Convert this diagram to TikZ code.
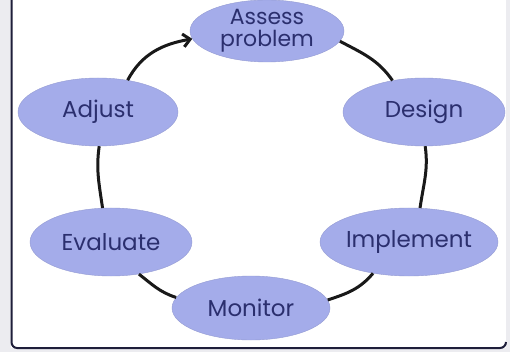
\documentclass[tikz,border=0pt]{standalone}
\usepackage{fontspec}
\setmainfont{Poppins}
\usetikzlibrary{shapes.geometric,arrows.meta}
\definecolor{ellfill}{HTML}{A4ACEA}
\definecolor{elltext}{HTML}{2B2F6E}
\definecolor{framecol}{HTML}{1E1E3A}
\definecolor{outbg}{HTML}{ECECF0}
\tikzset{
  stage/.style={ellipse, fill=ellfill, draw=ellfill!90!black, line width=0.4pt, inner sep=0pt,
    text=elltext, font=\fontsize{23}{20}\selectfont, align=center},
  link/.style={line width=3pt, draw=black!90},
}
\begin{document}
\begin{tikzpicture}[x=1pt,y=1pt]
\useasboundingbox (0,0) rectangle (510,-352);
\fill[outbg] (0,0) rectangle (510,-352);
\fill[white] (11,0) rectangle (506,-348);
\draw[framecol, line width=2pt] (11.5,0) -- (11.5,-342) to[out=-90,in=180] (17,-348) -- (500,-348) to[out=0,in=-90] (506,-342);
\node[stage, minimum width=154pt, minimum height=62pt, font=\fontsize{22}{22}\selectfont] (assess) at (267,-31) {Assess\\problem};
\node[stage, minimum width=162pt, minimum height=68pt] (design) at (424,-112) {Design};
\node[stage, minimum width=160pt, minimum height=68pt] (adjust) at (98,-112) {Adjust};
\node[stage, minimum width=162pt, minimum height=68pt] (evaluate) at (111,-242) {Evaluate};
\node[stage, minimum width=162pt, minimum height=68pt] (implement) at (409,-242) {Implement};
\node[stage, minimum width=158pt, minimum height=64pt] (monitor) at (251,-308) {Monitor};
\draw[link, -{Straight Barb[length=7pt,width=13pt,line width=3pt]}] (adjust.47) to[out=62,in=190] (assess.186);
\draw[link] (assess.-8) to[out=-28,in=125] (design.135);
\draw[link] (design.-88) to[out=-82,in=82] (implement.72);
\draw[link] (implement.221) to[out=-130,in=18] (monitor.6);
\draw[link] (monitor.172) to[out=162,in=-38] (evaluate.-49);
\draw[link] (evaluate.104) to[out=98,in=-98] (adjust.-88);
\end{tikzpicture}
\end{document}
